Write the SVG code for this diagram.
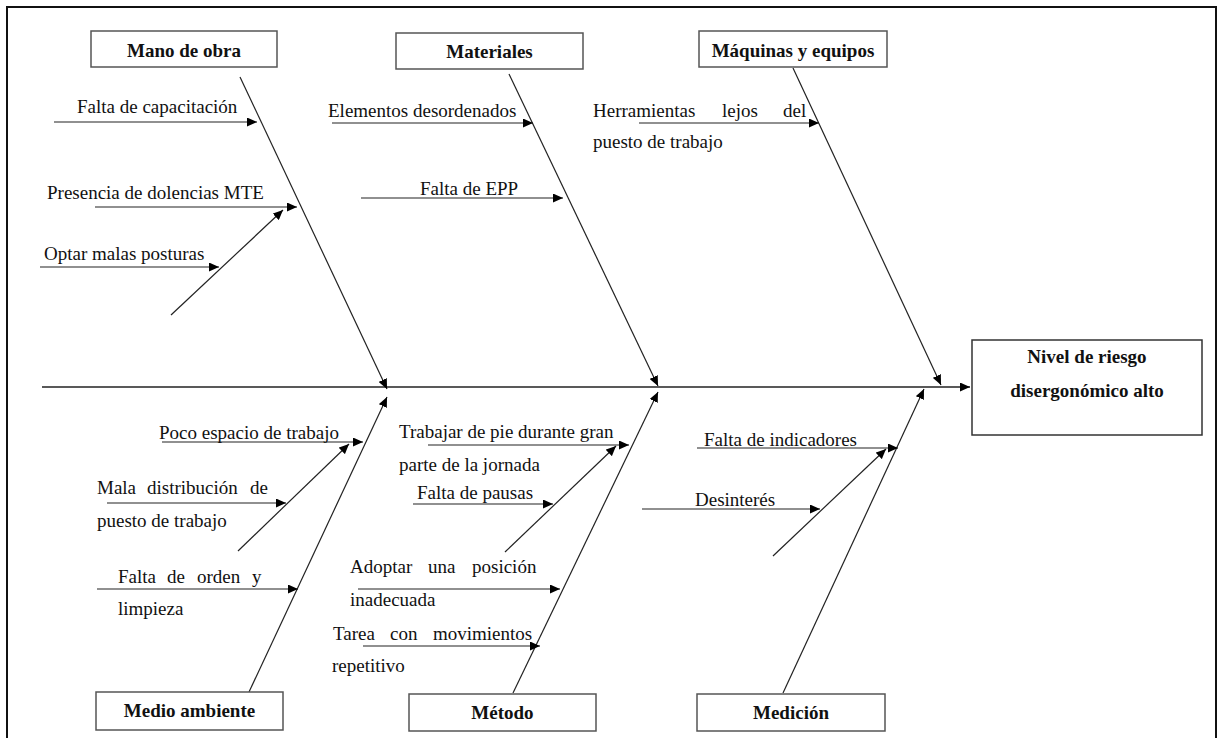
<svg xmlns="http://www.w3.org/2000/svg" width="1219" height="738" viewBox="0 0 1219 738">
<style>
.box{fill:#fff;stroke:#555;stroke-width:1.5}
.lbl{font-family:"Liberation Serif","Times New Roman",serif;font-size:19px;font-weight:bold;fill:#111;text-anchor:middle}
.t{font-family:"Liberation Serif","Times New Roman",serif;font-size:19px;fill:#111}
.ln{stroke:#222;stroke-width:1.2;fill:none;marker-end:url(#ah)}
</style>
<defs>
<marker id="ah" markerWidth="10" markerHeight="9" refX="10" refY="4.5" orient="auto" markerUnits="userSpaceOnUse">
<path d="M0,0 L10,4.5 L0,9 z" fill="#000"/>
</marker>
</defs>
<rect width="1219" height="738" fill="#fff"/>
<path d="M7,745 L7,7 L1216,7 L1216,745" fill="none" stroke="#111" stroke-width="2"/>

<g id="connectors">
<line class="ln" x1="42" y1="387" x2="970" y2="387" style="stroke-width:1.4"/>
<line class="ln" x1="240" y1="77" x2="387" y2="389"/>
<line class="ln" x1="509" y1="74" x2="658" y2="386"/>
<line class="ln" x1="793" y1="68" x2="941" y2="385"/>
<line class="ln" x1="249" y1="692" x2="387" y2="397"/>
<line class="ln" x1="513" y1="693" x2="658" y2="392"/>
<line class="ln" x1="783" y1="693" x2="924" y2="389"/>
<line class="ln" x1="54" y1="122" x2="257" y2="122"/>
<line class="ln" x1="95" y1="207" x2="297" y2="207"/>
<line class="ln" x1="171" y1="315" x2="283" y2="210"/>
<line class="ln" x1="40" y1="267" x2="219" y2="267"/>
<line class="ln" x1="332" y1="123" x2="533" y2="123"/>
<line class="ln" x1="361" y1="198" x2="563" y2="198"/>
<line class="ln" x1="639" y1="123" x2="819" y2="123"/>
<line class="ln" x1="162" y1="442" x2="363" y2="442"/>
<line class="ln" x1="238" y1="551" x2="349" y2="444"/>
<line class="ln" x1="107" y1="503" x2="286" y2="503"/>
<line class="ln" x1="97" y1="589" x2="298" y2="589"/>
<line class="ln" x1="428" y1="445" x2="629" y2="445"/>
<line class="ln" x1="505" y1="552" x2="616" y2="446"/>
<line class="ln" x1="413" y1="504" x2="553" y2="504"/>
<line class="ln" x1="358" y1="589" x2="560" y2="589"/>
<line class="ln" x1="363" y1="646" x2="540" y2="646"/>
<line class="ln" x1="697" y1="448" x2="898" y2="448"/>
<line class="ln" x1="773" y1="556" x2="886" y2="449"/>
<line class="ln" x1="642" y1="509" x2="820" y2="509"/>
</g>

<g id="mano-de-obra"><rect class="box" x="91" y="31" width="186" height="36"/><text class="lbl" x="184" y="57">Mano de obra</text></g>
<g id="materiales"><rect class="box" x="396" y="33" width="187" height="36"/><text class="lbl" x="489.5" y="58">Materiales</text></g>
<g id="maquinas"><rect class="box" x="699" y="31" width="188" height="36"/><text class="lbl" x="793" y="57">Máquinas y equipos</text></g>
<g id="efecto"><rect class="box" x="972" y="340" width="230" height="95" style="stroke:#333"/><text class="lbl" x="1087" y="363">Nivel de riesgo</text><text class="lbl" x="1087" y="397">disergonómico alto</text></g>
<g id="medio-ambiente"><rect class="box" x="96" y="692" width="187" height="38"/><text class="lbl" x="189.5" y="717">Medio ambiente</text></g>
<g id="metodo"><rect class="box" x="409" y="694" width="187" height="37"/><text class="lbl" x="502.5" y="719">Método</text></g>
<g id="medicion"><rect class="box" x="697" y="694" width="188" height="37"/><text class="lbl" x="791" y="719">Medición</text></g>

<g id="causa-capacitacion"><text class="t" x="77" y="113">Falta de capacitación</text></g>
<g id="causa-dolencias"><text class="t" x="47" y="199">Presencia de dolencias MTE</text></g>
<g id="causa-posturas"><text class="t" x="44" y="260">Optar malas posturas</text></g>
<g id="causa-elementos"><text class="t" x="328" y="117">Elementos desordenados</text></g>
<g id="causa-epp"><text class="t" x="420" y="195">Falta de EPP</text></g>
<g id="causa-herramientas"><text class="t" y="117"><tspan x="593">Herramientas</tspan><tspan x="722">lejos</tspan><tspan x="783">del</tspan></text><text class="t" x="593" y="148">puesto de trabajo</text></g>
<g id="causa-espacio"><text class="t" x="159" y="439">Poco espacio de trabajo</text></g>
<g id="causa-distribucion"><text class="t" y="494"><tspan x="97">Mala</tspan><tspan x="147">distribución</tspan><tspan x="250">de</tspan></text><text class="t" x="97" y="527">puesto de trabajo</text></g>
<g id="causa-orden"><text class="t" y="583"><tspan x="118">Falta</tspan><tspan x="167">de</tspan><tspan x="197">orden</tspan><tspan x="252">y</tspan></text><text class="t" x="118" y="615">limpieza</text></g>
<g id="causa-pie"><text class="t" x="399" y="438">Trabajar de pie durante gran</text><text class="t" x="399" y="471">parte de la jornada</text></g>
<g id="causa-pausas"><text class="t" x="417" y="499">Falta de pausas</text></g>
<g id="causa-posicion"><text class="t" y="573"><tspan x="350">Adoptar</tspan><tspan x="428">una</tspan><tspan x="472">posición</tspan></text><text class="t" x="350" y="606">inadecuada</text></g>
<g id="causa-movimientos"><text class="t" y="640"><tspan x="333">Tarea</tspan><tspan x="390">con</tspan><tspan x="433">movimientos</tspan></text><text class="t" x="332" y="672">repetitivo</text></g>
<g id="causa-indicadores"><text class="t" x="704" y="446">Falta de indicadores</text></g>
<g id="causa-desinteres"><text class="t" x="695" y="506">Desinterés</text></g>
</svg>
